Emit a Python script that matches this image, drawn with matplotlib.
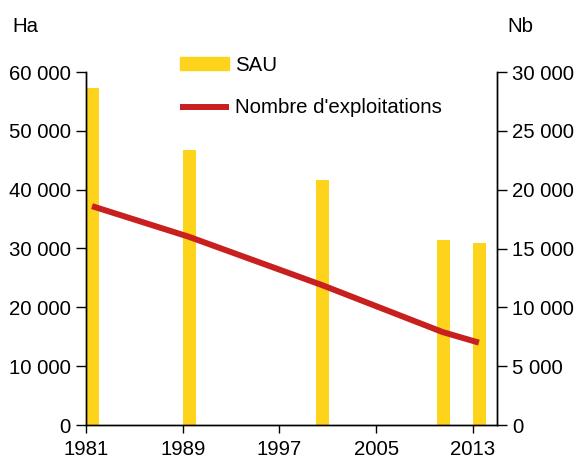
import matplotlib
matplotlib.use("Agg")
import matplotlib.pyplot as plt
from matplotlib.ticker import FuncFormatter
from matplotlib.patches import Patch
from matplotlib.lines import Line2D

plt.rcParams['font.family'] = ['Liberation Sans', 'DejaVu Sans']

# données
annees = [1981, 1989, 2000, 2010, 2013]
sau = [57300, 46700, 41700, 31400, 31000]
nb_exploitations = [18600, 16000, 11900, 7900, 7000]
ticks_x = [1981, 1989, 1997, 2005, 2013]

jaune = "#FDD31B"
rouge = "#C8201E"
fs = 14.7


def fmt(v, pos):
    return "{:,}".format(int(v)).replace(",", " ")


fig = plt.figure(figsize=(5.76, 4.61), dpi=100)
ax = fig.add_axes([86 / 576, 1 - 425 / 461, 411 / 576, 353 / 461])
ax2 = ax.twinx()

ax.bar(annees, sau, width=1.08, align="edge", color=jaune, zorder=1)
ax2.plot([a + 0.5 for a in annees], nb_exploitations, color=rouge, lw=4.3,
         solid_capstyle="butt", zorder=3)

ax.set_xlim(1981, 2015.0)
ax.set_ylim(0, 60000)
ax2.set_ylim(0, 30000)
ax.set_xticks(ticks_x)
ax.set_yticks(range(0, 60001, 10000))
ax2.set_yticks(range(0, 30001, 5000))
ax.yaxis.set_major_formatter(FuncFormatter(fmt))
ax2.yaxis.set_major_formatter(FuncFormatter(fmt))

for a in (ax, ax2):
    a.spines["top"].set_visible(False)
    a.tick_params(direction="out", length=7, width=1.0, labelsize=fs, pad=4)
    for s in a.spines.values():
        s.set_linewidth(1.0)
ax.tick_params(axis="x", length=6, pad=5)
ax2.set_zorder(ax.get_zorder() + 1)

fig.text(12 / 576, 1 - 32 / 461, "Ha", fontsize=fs)
fig.text(507 / 576, 1 - 32 / 461, "Nb", fontsize=fs)

handles = [Patch(color=jaune),
           Line2D([0], [0], color=rouge, lw=4.3, solid_capstyle="butt")]
fig.legend(handles, ["SAU", "Nombre d'exploitations"], loc="upper left",
           bbox_to_anchor=(180 / 576, 1 - 56 / 461), frameon=False,
           fontsize=fs, borderpad=0, borderaxespad=0,
           handlelength=2.4, handleheight=0.6, labelspacing=1.15,
           handletextpad=0.3)

fig.savefig("out.png", dpi=100)
